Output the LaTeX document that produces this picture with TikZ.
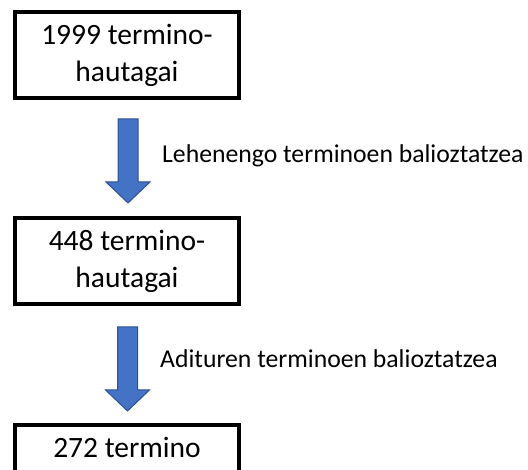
\documentclass[tikz,border=0pt]{standalone}
\usepackage{fontspec}
\setmainfont{Carlito}
\usetikzlibrary{calc}
\definecolor{arrowfill}{HTML}{4472C4}
\definecolor{arrowline}{HTML}{2F528F}
\tikzset{
  stagebox/.style={draw=black, line width=4pt, minimum width=224pt, minimum height=86pt,
    inner sep=0pt, align=center, font=\fontsize{29.5}{37}\selectfont},
  steplabel/.style={anchor=base west, inner sep=0pt, font=\fontsize{25.7}{30}\selectfont},
  bigarrow/.pic={
    \path[fill=arrowfill, draw=arrowline, line width=1pt, line join=miter]
      (-10pt,0) -- (10pt,0) -- (10pt,-63pt) -- (22pt,-63pt) -- (0,-84pt)
      -- (-22pt,-63pt) -- (-10pt,-63pt) -- cycle;
  }
}
\begin{document}
\begin{tikzpicture}[x=1pt,y=1pt]
\useasboundingbox (0,0) rectangle (528,470);
\clip (0,0) rectangle (528,470);
\fill[white] (0,0) rectangle (528,470);
\node[stagebox] (b1) at (127,415) {1999 termino-\\hautagai};
\node[stagebox] (b2) at (127,209) {448 termino-\\hautagai};
\node[stagebox, text depth=0pt] (b3) at (127,2) {};
\node[anchor=base, inner sep=0pt, font=\fontsize{29.5}{37}\selectfont] (t3) at (127,12) {272 termino};
\pic (a1) at ($(b1.south)+(1,-19)$) {bigarrow};
\pic (a2) at ($(b2.south)+(0.5,-21)$) {bigarrow};
\node[steplabel] (l1) at (162,307) {Lehenengo terminoen balioztatzea};
\node[steplabel] (l2) at (160,102) {Adituren terminoen balioztatzea};
\end{tikzpicture}
\end{document}
